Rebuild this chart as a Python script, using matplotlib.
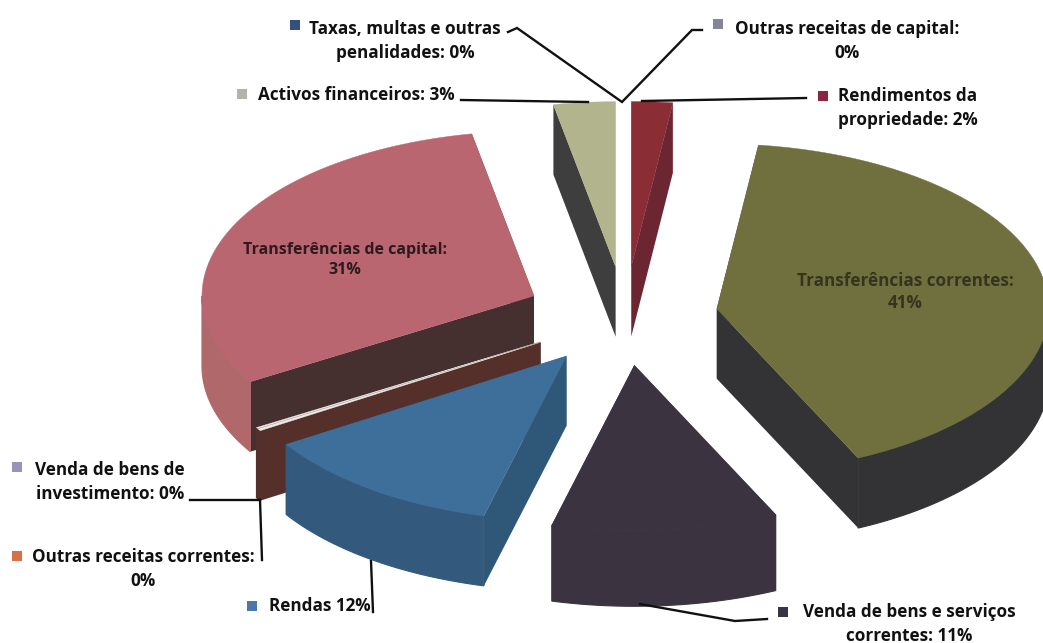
import numpy as np
import matplotlib
matplotlib.use("Agg")
import matplotlib.pyplot as plt

# slice shares in percent, clockwise from the top (the "0%" ones are tiny)
names = ["Rendimentos", "Transf. correntes", "Venda bens", "Rendas", "Outras correntes",
         "Venda investimento", "Transf. capital", "Activos", "Taxas", "Outras capital"]
values = [2, 41, 11, 12, 0.2, 0.1, 30.7, 3, 0, 0]
explode = [0.3, 0.28, 0.3, 0.3, 0.3, 0.3, 0.3, 0.3, 0, 0]
depths = [70, 70, 76, 70, 70, 70, 70, 70, 70, 70]

top_colors = ["#8a2d35", "#70703f", "#3b3340", "#3e6f9a", "#ececec", "#f4f4f4", "#b96670", "#b2b48e", "#444", "#888"]
cut_colors = ["#6c2631", "#333335", "#3b3340", "#2f5878", "#55302a", "#55302a", "#45302f", "#3e3e3e", "#444", "#888"]
rim_colors = ["#6c2631", "#333335", "#3b3340", "#33597c", "#55302a", "#55302a", "#b0686a", "#3e3e3e", "#444", "#888"]

# back to front
draw_order = [0, 7, 6, 5, 4, 1, 3, 2]

cx, cy = 625, 316
rx, ry = 332, 165

labels = [
    ("Taxas, multas e outras\npenalidades: 0%", 405, 41, "#33507f", 295, 25),
    ("Outras receitas de capital:\n0%", 847, 41, "#85859a", 718, 24),
    ("Activos financeiros: 3%", 356, 95, "#b3b3ab", 242, 94),
    ("Rendimentos da\npropriedade: 2%", 908, 108, "#8a2440", 823, 96),
    ("Venda de bens de\ninvestimento: 0%", 110, 482, "#9a92bb", 17, 467),
    ("Outras receitas correntes:\n0%", 143, 569, "#d9704a", 17, 556),
    ("Rendas 12%", 320, 606, "#4a78ad", 252, 606),
    ("Venda de bens e serviços\ncorrentes: 11%", 909, 624, "#3a3546", 783, 612),
]
inner_labels = [
    ("Transferências de capital:\n31%", 345, 260, "#2e1a1e", 11.5),
    ("Transferências correntes:\n41%", 905, 292, "#34341f", 12.3),
]
leaders = [
    ([508, 517, 622, 692, 702], [32, 28, 102, 30, 30]),
    ([461, 588], [100, 102]),
    ([642, 806], [101, 98]),
    ([190, 260], [500, 500]),
    ([260, 262], [500, 560]),
    ([371, 373], [561, 612]),
    ([640, 735, 767], [604, 621, 619]),
]

fig = plt.figure(figsize=(10.43, 6.43), dpi=100)
ax = fig.add_axes([0, 0, 1, 1])
ax.set_xlim(0, 1043)
ax.set_ylim(643, 0)
ax.axis("off")

shares = np.array(values) / sum(values) * 360
ends = np.cumsum(shares)
starts = ends - shares


def rim(x0, y0, a, b, n=60):
    t = np.radians(np.linspace(a, b, n))
    return x0 + rx * np.sin(t), y0 - ry * np.cos(t)


for i in draw_order:
    a, b = starts[i], ends[i]
    mid = np.radians((a + b) / 2)
    x0 = cx + explode[i] * rx * np.sin(mid)
    y0 = cy - explode[i] * ry * np.cos(mid)
    xs, ys = rim(x0, y0, a, b)
    depth = depths[i]

    # the two cut faces
    for xe, ye in [(xs[0], ys[0]), (xs[-1], ys[-1])]:
        ax.fill([x0, xe, xe, x0], [y0, ye, ye + depth, y0 + depth], color=cut_colors[i], lw=0)

    # outer wall, only the part facing the viewer
    la, lb = max(a, 90), min(b, 270)
    if lb > la:
        wx, wy = rim(x0, y0, la, lb)
        ax.fill(np.r_[wx, wx[::-1]], np.r_[wy, wy[::-1] + depth], color=rim_colors[i], lw=0.8)

    ax.fill(np.r_[x0, xs], np.r_[y0, ys], color=top_colors[i], lw=0.3)

for xs, ys in leaders:
    ax.plot(xs, ys, color="#111111", lw=1.7, solid_joinstyle="miter")

for txt, x, y, key, kx, ky in labels:
    ax.text(x, y, txt, ha="center", va="center", family="Open Sans", weight="bold", fontsize=12.3,
            color="#111111", linespacing=1.4)
    ax.plot(kx, ky, marker="s", ms=6.5, color=key, mew=0)

for txt, x, y, col, size in inner_labels:
    ax.text(x, y, txt, ha="center", va="center", family="Open Sans", weight="bold", fontsize=size,
            color=col, linespacing=1.35)

fig.savefig("out.png", dpi=100)
